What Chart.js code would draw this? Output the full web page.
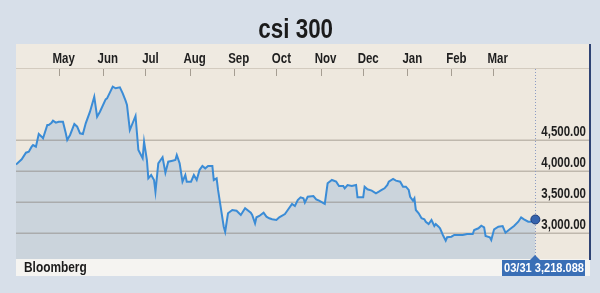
<!DOCTYPE html>
<html>
<head>
<meta charset="utf-8">
<script src="https://cdn.jsdelivr.net/npm/chart.js@4.4.1/dist/chart.umd.min.js"></script>
<style>
  html, body { margin: 0; padding: 0; }
  body {
    width: 600px; height: 293px; position: relative; overflow: hidden;
    background: #d7dfe9;
    font-family: 'Liberation Sans', Arial, sans-serif;
  }
  .panel { position: absolute; left: 16px; top: 44px; width: 574px; height: 215px; background: #eee8de; }
  .panel__head { position: absolute; left: 0; top: 0; width: 100%; height: 24px; border-bottom: 1px solid #d3cbbf; background: #efeae1; }
  .panel__edge { position: absolute; left: 589px; top: 44px; width: 2px; height: 216px; background: #2f4374; }
  .foot { position: absolute; left: 16px; top: 259px; width: 574px; height: 17px; background: #f5f4f1; }
  .narrow { display: inline-block; transform: scaleX(0.82); }
  .title {
    position: absolute; left: 0; top: 14px; width: 592px; text-align: center;
    font-size: 28px; line-height: 30px; font-weight: 700; color: #1b1b1b;
  }
  .title .narrow { transform: scaleX(0.8); }
  .source {
    position: absolute; left: 24px; top: 259px;
    font-size: 14.5px; line-height: 16px; font-weight: 700; color: #1b1b1b;
  }
  .source .narrow { transform-origin: 0 50%; }
  .last {
    position: absolute; left: 502px; top: 260px; width: 83px; height: 16px;
    background: #3a6fb6; color: #fff; font-size: 13.5px; font-weight: 700; line-height: 16px;
    white-space: nowrap;
  }
  .last .narrow { position: absolute; left: 50%; top: 0; transform: translateX(-50%) scaleX(0.82); }
  .last::before {
    content: ''; position: absolute; left: 28px; top: -5px;
    border-left: 5px solid transparent; border-right: 5px solid transparent; border-bottom: 5px solid #3a6fb6;
  }
  canvas { position: absolute; left: 0; top: 0; }
</style>
</head>
<body>
<div class="panel"><div class="panel__head"></div></div>
<div class="foot"></div>
<div class="panel__edge"></div>
<canvas id="ch" width="600" height="293"></canvas>
<div class="title"><span class="narrow">csi 300</span></div>
<div class="source"><span class="narrow">Bloomberg</span></div>
<div class="last"><span class="narrow">03/31 3,218.088</span></div>

<script>
// days since 2015-04-01, closing level
const days = [
  0, 4, 7, 9, 11, 12, 14, 16, 18, 19, 22, 23, 25, 26, 28, 30, 33, 35, 36, 38,
  41, 43, 45, 47, 49, 52, 55, 57, 59, 63, 64, 68, 70, 73, 75, 77, 78, 80, 84, 86,
  89, 90, 92, 93, 95, 97, 98, 100, 103, 105, 107, 110, 112, 113, 115, 117, 119, 120, 123, 125,
  127, 129, 131, 133, 135, 138, 139, 141, 142, 144, 146, 147, 149, 152, 155, 158, 161, 165, 166, 168,
  169, 171, 174, 176, 178, 180, 183, 185, 189, 191, 194, 196, 198, 200, 202, 203, 205, 209, 211, 213,
  217, 219, 222, 225, 227, 230, 231, 233, 236, 239, 240, 244, 245, 247, 250, 253, 255, 257, 259, 261,
  262, 265, 267, 270, 272, 274, 276, 277, 279, 280, 281, 283, 285, 287, 288, 290, 292, 294, 295, 297,
  298, 300, 302, 303, 306, 308, 310, 314, 317, 321, 322, 325, 327, 329, 330, 333, 334, 336, 339, 342,
  344, 347, 350, 353, 355, 357, 360, 362, 365
];
const closes = [
  4105, 4189, 4295, 4311, 4392, 4419, 4392, 4597, 4553, 4527, 4742, 4742, 4779, 4811, 4779, 4795, 4795, 4608, 4500, 4581,
  4758, 4715, 4608, 4597, 4769, 4956, 5198, 4876, 4956, 5156, 5172, 5360, 5334, 5350, 5253, 5134, 5065, 4661, 4887, 4339,
  4205, 4473, 4177, 3882, 3935, 3855, 3666, 4124, 4221, 3973, 4150, 4166, 4177, 4258, 4124, 3828, 3935, 3828, 3828, 3935,
  3855, 4016, 4081, 4043, 4081, 4081, 3855, 3882, 3694, 3398, 3102, 3021, 3318, 3371, 3360, 3290, 3398, 3327, 3290, 3156,
  3253, 3274, 3327, 3263, 3237, 3221, 3210, 3253, 3306, 3371, 3468, 3435, 3532, 3576, 3560, 3489, 3585, 3597, 3543, 3521,
  3468, 3802, 3855, 3828, 3758, 3758, 3721, 3774, 3758, 3774, 3576, 3576, 3747, 3705, 3683, 3640, 3666, 3694, 3721, 3774,
  3828, 3871, 3844, 3828, 3747, 3747, 3694, 3585, 3521, 3560, 3371, 3318, 3237, 3221, 3182, 3145, 3210, 3113, 3145, 3102,
  3076, 2968, 2876, 2931, 2940, 2968, 2968, 2968, 2984, 2984, 3048, 3076, 3118, 3092, 2952, 2931, 2887, 3060, 3102, 3113,
  3005, 3060, 3113, 3182, 3253, 3221, 3182, 3182, 3218.088
];
const monthLabels = ['May', 'Jun', 'Jul', 'Aug', 'Sep', 'Oct', 'Nov', 'Dec', 'Jan', 'Feb', 'Mar'];
const monthDays   = [30, 61, 91, 122, 153, 183, 214, 244, 275, 306, 335];
const yTicks      = [3000, 3500, 4000, 4500];

const FONT = "700 14px 'Liberation Sans', Arial, sans-serif";
const last = days.length - 1;
const fmt = v => v.toLocaleString('en-US', { minimumFractionDigits: 2, maximumFractionDigits: 2 });

// condensed look: squeeze the text horizontally around its anchor
function narrowText(ctx, txt, x, y) {
  ctx.save();
  ctx.translate(x, y);
  ctx.scale(0.82, 1);
  ctx.fillText(txt, 0, 0);
  ctx.restore();
}

// grid, month ticks, marker line and labels drawn from the scales
const decor = {
  id: 'decor',
  beforeDatasetsDraw(chart) {
    const { ctx, chartArea: a, scales: { x, y } } = chart;
    ctx.save();
    ctx.lineWidth = 1.5;
    ctx.strokeStyle = 'rgba(115,105,95,0.38)';
    yTicks.forEach(v => {
      const py = Math.round(y.getPixelForValue(v)) + 0.25;
      ctx.beginPath(); ctx.moveTo(a.left, py); ctx.lineTo(a.right - 1, py); ctx.stroke();
    });
    // month tick marks under the header band
    ctx.lineWidth = 1;
    ctx.strokeStyle = '#a59d92';
    monthDays.forEach(d => {
      const px = Math.round(x.getPixelForValue(d)) + 0.5;
      ctx.beginPath(); ctx.moveTo(px, a.top); ctx.lineTo(px, a.top + 7); ctx.stroke();
    });
    // dotted line at the last close
    const lx = Math.round(x.getPixelForValue(days[last])) + 0.5;
    ctx.strokeStyle = '#8b9bc4';
    ctx.setLineDash([1, 2]);
    ctx.beginPath(); ctx.moveTo(lx, a.top); ctx.lineTo(lx, a.bottom); ctx.stroke();
    ctx.restore();
  },
  afterDraw(chart) {
    const { ctx, chartArea: a, scales: { x, y } } = chart;
    ctx.save();
    ctx.font = FONT;
    ctx.fillStyle = '#1e1e1e';
    ctx.textBaseline = 'middle';
    ctx.textAlign = 'center';
    monthDays.forEach((d, i) => narrowText(ctx, monthLabels[i], x.getPixelForValue(d) + 5, a.top - 10));
    ctx.textAlign = 'right';
    yTicks.forEach(v => narrowText(ctx, fmt(v), 586, y.getPixelForValue(v) - 8));
    ctx.restore();
  }
};

new Chart(document.getElementById('ch'), {
  type: 'line',
  data: {
    datasets: [{
      data: days.map((d, i) => ({ x: d, y: closes[i] })),
      borderColor: '#3b8cd6',
      borderWidth: 2,
      backgroundColor: '#cbd4dc',
      fill: 'start',
      tension: 0,
      pointRadius: c => c.dataIndex === last ? 4.5 : 0,
      pointBackgroundColor: '#3563ae',
      pointBorderColor: '#1d3b78',
      pointBorderWidth: 1,
    }],
  },
  options: {
    responsive: false,
    devicePixelRatio: 1,
    animation: false,
    layout: { padding: { left: 16, right: 10, top: 69, bottom: 34 } },
    plugins: { legend: { display: false }, tooltip: { enabled: false }, filler: { drawTime: 'beforeDraw' } },
    scales: {
      x: { type: 'linear', min: 0, max: 403.4, display: false },
      y: { min: 2580.6, max: 5645, display: false },
    },
  },
  plugins: [decor],
});
</script>
</body>
</html>
